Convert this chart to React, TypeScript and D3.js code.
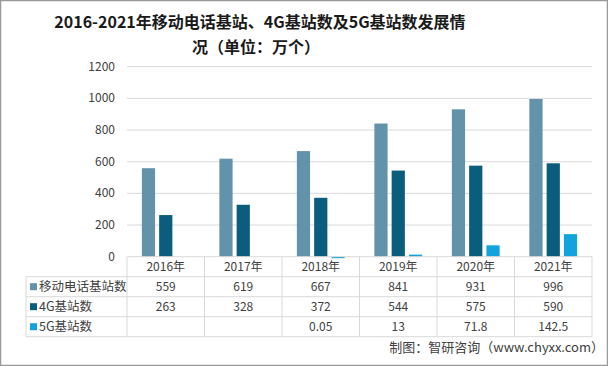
import React from "react";
import * as d3 from "d3";

const categories = ["2016年", "2017年", "2018年", "2019年", "2020年", "2021年"];
const seriesNames = ["移动电话基站数", "4G基站数", "5G基站数"];
const mobile = [559, 619, 667, 841, 931, 996];
const g4 = [263, 328, 372, 544, 575, 590];
const g5: (number | null)[] = [null, null, 0.05, 13, 71.8, 142.5];
const g5Labels = ["", "", "0.05", "13", "71.8", "142.5"];
const yTicks = [0, 200, 400, 600, 800, 1000, 1200];
const colors = ["#6393ab", "#0b5d7e", "#13a3dc"];

const W = 608, H = 366;
const left = 127, right = 592, top = 66.7, bottom = 256.7;
const rowH = 20;
const tableLeft = 26;
const font = "'Noto Sans CJK SC', 'Microsoft YaHei', sans-serif";

export default function App() {
  const x = d3.scaleBand<string>().domain(categories).range([left, right]);
  const x1 = d3.scaleBand<number>().domain([0, 1, 2]).range([0, x.bandwidth()]).paddingInner(0.235).paddingOuter(0.86);
  const y = d3.scaleLinear().domain([0, 1200]).range([bottom, top]);
  const series = [mobile, g4, g5];
  const labels = [mobile.map(String), g4.map(String), g5Labels];
  const tableBottom = bottom + rowH * 4;
  const lineColor = "#d9d9d9";
  return (
    <svg width={W} height={H} style={{ position: "absolute", left: 0, top: 0, background: "#fff" }}>
      <rect x={0.5} y={0.5} width={W - 1} height={H - 1} fill="#fff" stroke="#999" strokeWidth={1.5} />
      <text x={260} y={28} textAnchor="middle" fontFamily={font} fontWeight="bold" fontSize={16} fill="#1a1a1a">
        2016-2021年移动电话基站、4G基站数及5G基站数发展情
      </text>
      <text x={256} y={53} textAnchor="middle" fontFamily={font} fontWeight="bold" fontSize={16} fill="#1a1a1a">
        况（单位：万个）
      </text>
      {yTicks.map((t) => (
        <g key={t}>
          {t > 0 && <line x1={left} x2={right} y1={y(t)} y2={y(t)} stroke={lineColor} strokeWidth={1} />}
          <text x={115} y={y(t) + 4} textAnchor="end" fontFamily={font} fontSize={12} fill="#404040">{t}</text>
        </g>
      ))}
      {series.map((s, si) =>
        s.map((v, i) =>
          v == null ? null : (
            <rect key={`${si}-${i}`} x={(x(categories[i]) ?? 0) + (x1(si) ?? 0)} width={x1.bandwidth()}
              y={y(v)} height={Math.max(bottom - y(v), v > 0 ? 1.5 : 0)} fill={colors[si]} />
          )
        )
      )}
      {/* table */}
      <line x1={left} x2={right} y1={bottom} y2={bottom} stroke={lineColor} />
      {[1, 2, 3, 4].map((r) => (
        <line key={r} x1={tableLeft} x2={right} y1={bottom + rowH * r} y2={bottom + rowH * r} stroke={lineColor} />
      ))}
      <line x1={tableLeft} x2={tableLeft} y1={bottom + rowH} y2={tableBottom} stroke={lineColor} />
      {categories.map((c, i) => (
        <line key={c} x1={x(c)} x2={x(c)} y1={bottom} y2={tableBottom} stroke={lineColor} />
      ))}
      <line x1={right} x2={right} y1={bottom} y2={tableBottom} stroke={lineColor} />
      {categories.map((c) => (
        <text key={c} x={(x(c) ?? 0) + x.bandwidth() / 2} y={bottom + 14.5} textAnchor="middle" fontFamily={font} fontSize={12} fill="#404040">{c}</text>
      ))}
      {seriesNames.map((n, si) => (
        <g key={n}>
          <rect x={30} y={bottom + rowH * (si + 1) + 6.5} width={7} height={7} fill={colors[si]} />
          <text x={39} y={bottom + rowH * (si + 1) + 14.5} fontFamily={font} fontSize={12.5} fill="#404040">{n}</text>
          {labels[si].map((l, i) => (
            <text key={i} x={(x(categories[i]) ?? 0) + x.bandwidth() / 2} y={bottom + rowH * (si + 1) + 14.5}
              textAnchor="middle" fontFamily={font} fontSize={12} fill="#404040">{l}</text>
          ))}
        </g>
      ))}
      <text x={604} y={352} textAnchor="end" fontFamily={font} fontSize={13} fill="#404040">制图：智研咨询（www.chyxx.com）</text>
    </svg>
  );
}
